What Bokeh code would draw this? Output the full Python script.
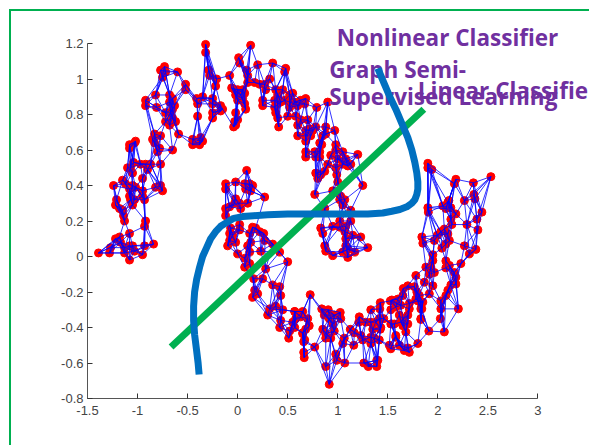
from bokeh.embed import file_html
from bokeh.resources import INLINE
from bokeh.plotting import figure
from bokeh.layouts import column
from bokeh.models import FixedTicker, Label, Range1d, Div
import numpy as np

x_ticks = [-1.5, -1, -0.5, 0, 0.5, 1, 1.5, 2, 2.5, 3]
x_tick_labels = ["-1.5", "-1", "-0.5", "0", "0.5", "1", "1.5", "2", "2.5", "3"]
y_ticks = [-0.8, -0.6, -0.4, -0.2, 0, 0.2, 0.4, 0.6, 0.8, 1, 1.2]
y_tick_labels = ["-0.8", "-0.6", "-0.4", "-0.2", "0", "0.2", "0.4", "0.6", "0.8", "1", "1.2"]

tail = [(-1.39,.02),(-1.28,.02),(-1.27,.05),(-1.22,.10),(-1.18,.11),(-1.17,.08),(-1.08,.13),(-1.13,.05),(-1.08,.06),(-1.05,.06),
        (-1.13,.02),(-1.08,-.02),(-1.03,.03),(-.95,.01),(-.93,.06),(-.84,.07),(-.92,.20),(-.93,.17)]
left_arc = [(-1.24,.40),(-1.21,.32),(-1.22,.29),(-1.18,.27),(-1.15,.26),(-1.14,.23),(-1.13,.20),(-1.15,.43),(-1.12,.41),(-1.08,.38),
            (-1.05,.40),(-1.08,.34),(-1.07,.32),(-1.03,.32),(-1.05,.29),(-1.02,.39),(-.95,.37),(-.95,.34),(-.93,.32),(-.95,.44),
            (-1.10,.50),(-1.05,.47),(-1.07,.50),(-1.08,.63),(-1.08,.61),(-1.02,.65),(-1.04,.53),(-.97,.52),(-.92,.52),(-.87,.52),
            (-.90,.49),(-.77,.52),(-.77,.40),(-.75,.37),(-.82,.39),(-1.03,.64)]
upper_left = [(-.32,1.195),(-.32,1.15),(-.29,1.05),(-.28,1.02),(-.21,1.00),(-.22,.96),(-.73,1.07),(-.77,1.05),(-.72,1.04),(-.75,1.01),
              (-.60,1.04),(-.52,.97),(-.52,.94),(-.92,.88),(-.92,.85),(-.82,.91),(-.81,.84),(-.72,.81),(-.68,.91),(-.65,.89),
              (-.68,.87),(-.63,.85),(-.65,.83),(-.67,.81),(-.72,.76),(-.65,.78),(-.62,.76),(-.68,.74),(-.41,.89),(-.40,.86),
              (-.35,.90),(-.25,.89),(-.25,.86),(-.40,.79),(-.25,.81),(-.25,.78),(-.17,.85),(-.15,.83),(-.17,.82),(-.59,.69),
              (-.45,.66),(-.45,.63),(-.37,.67),(-.35,.65),(-.38,.63),(-.83,.69),(-.85,.66),(-.77,.68),(-.83,.64),(-.78,.61),
              (-.65,.60),(-.80,.59)]
top = [(.13,1.19),(.01,1.12),(.02,1.09),(-.08,1.02),(.09,1.05),(.10,1.02),(.20,1.08),(.35,1.09),(.48,1.06),(.47,1.04),
       (.17,.98),(.22,.97),(.27,.97),(.32,1.0),(.28,.94),(.10,.98),(-.06,.95),(-.03,.94),(0,.94),(.05,.94),
       (-.02,.91),(.03,.91),(0,.88),(.05,.89),(.07,.92),(.07,.86),(.08,.83),(-.02,.81),(-.03,.76),(0,.77),
       (-.04,.73),(-.02,.74),(.25,.88),(.25,.85),(.38,.94),(.45,.94),(.40,.91),(.37,.88),(.40,.86),(.43,.87),
       (.37,.84),(.38,.81),(.40,.78),(.41,.73),(.47,.88),(.52,.91),(.55,.92),(.52,.87),(.57,.87),(.52,.84),
       (.50,.79),(.60,.85),(.63,.88),(.68,.89),(.67,.86),(.79,.84),(.90,.87),(.58,.79),(.60,.74),(.63,.77),
       (.70,.77),(.60,.68)]
upper_right = [(.68,.71),(.72,.72),(.75,.71),(.68,.68),(.73,.68),(.68,.65),(.78,.73),(.88,.73),(.97,.71),(.85,.68),
               (.82,.64),(.68,.59),(.77,.59),(.82,.59),(.68,.56),(.78,.56),(.82,.56),(.84,.63),(.88,.69),(.78,.47),
               (.80,.44),(.83,.46),(.87,.48),(.90,.52),(.77,.35),(.98,.63),(.93,.57),(.98,.60),(1.05,.59),(1.0,.55),
               (1.08,.55),(1.13,.52),(1.10,.51),(1.05,.52),(1.20,.575),(.98,.50),(.99,.46),(1.0,.42),(1.25,.40),(.95,.37),
               (1.03,.34),(1.02,.32),(1.07,.32),(1.05,.29),(.87,.27),(1.13,.26),(.83,.16),(.85,.13),(.95,.17),(1.02,.20),
               (1.08,.17),(1.13,.20),(1.02,.165),(.87,.06),(.88,.03),(.95,.005),(1.05,.025),(1.10,-.005),(1.17,.025),(1.23,.11),
               (1.30,.05),(1.08,.10),(1.08,.06),(1.10,.04),(1.15,.12),(1.07,.14)]
inner = [(.09,.485),(-.12,.41),(-.12,.38),(-.02,.42),(.07,.41),(.12,.41),(.15,.40),(.13,.37),(.08,.38),(.27,.335),
         (-.02,.325),(-.03,.30),(.02,.30),(.03,.27),(.10,.30),(-.12,.27),(-.12,.23),(-.08,.28),(.02,.18),(.02,.15),
         (-.07,.16),(-.08,.13),(-.08,.09),(-.10,.06),(-.02,.08),(0,.015),(-.05,.12),(.15,.165),(.18,.16),(.22,.14),
         (.26,.13),(.27,.09),(.23,.03),(.12,.13),(.10,.06),(.13,.08),(.07,-.01),(.07,-.06),(.12,-.04),(.12,.025),
         (.35,.07),(.42,.025),(.50,-.03),(.28,-.07),(.25,-.125),(.16,-.125),(.17,-.19),(.15,-.23),(.20,-.21),(.35,-.16),
         (.42,-.17),(.43,-.22),(.32,-.295),(.30,-.33),(.38,-.28),(.45,-.30),(.43,-.36),(.42,-.40),(.51,-.46),(.52,-.42),
         (.57,-.31),(.58,-.35),(.67,-.47),(.65,-.43)]
bottom = [(.725,-.215),(.57,-.31),(.55,-.37),(.57,-.40),(.65,-.31),(.63,-.34),(.70,-.35),(.715,-.39),(.68,-.41),(.65,-.435),
          (.66,-.48),(.66,-.54),(.665,-.57),(.77,-.51),(.88,-.62),(.915,-.72),(.84,-.295),(.905,-.30),(1.025,-.315),(1.03,-.35),
          (.865,-.33),(.915,-.35),(.965,-.33),(.95,-.38),(.85,-.41),(.88,-.435),(.965,-.42),(.88,-.46),(.93,-.46),(1.05,-.49),
          (.98,-.55),(.99,-.585),(1.07,-.60),(1.065,-.46),(1.125,-.41),(1.165,-.43),(1.16,-.50),(1.215,-.34),(1.21,-.37),(1.23,-.445),
          (1.25,-.47),(1.28,-.37),(1.33,-.30),(1.33,-.37),(1.35,-.41),(1.33,-.455),(1.33,-.49),(1.365,-.46),(1.26,-.60),(1.305,-.62),
          (1.39,-.62),(1.39,-.585),(1.425,-.26),(1.415,-.35),(1.46,-.35),(1.425,-.41),(1.525,-.25),(1.53,-.30),(1.53,-.38),(1.60,-.24),
          (1.58,-.285),(1.615,-.33),(1.565,-.38),(1.655,-.18),(1.65,-.22),(1.515,-.50),(1.615,-.50),(1.665,-.53),(1.58,-.445),(1.65,-.39),
          (1.65,-.35)]
lower_right = [(1.42,-.295),(1.54,-.245),(1.70,-.165),(1.765,-.17),(1.83,-.26),(1.83,-.295),(1.815,-.22),(1.80,-.25),(1.915,-.21),(1.95,-.165),
               (1.83,-.355),(1.91,-.42),(2.065,-.425),(2.205,-.295),(2.03,-.25),(2.03,-.295),(2.025,-.35),(2.08,-.22),(2.10,-.19),(2.13,-.16),
               (2.18,-.155),(1.80,-.49),(1.715,-.54),(1.70,-.515),(1.53,-.52),(1.415,-.47),(1.40,-.585),(1.54,-.38),(1.58,-.455),(1.63,-.37),
               (1.70,-.33),(1.68,-.425),(1.70,-.38),(1.63,-.275),(1.715,-.265),(1.715,-.295),(1.43,-.35),(1.38,-.37),(1.43,-.40)]
right = [(1.90,.525),(1.90,.50),(1.94,.49),(2.18,.435),(2.165,.41),(2.355,.415),(2.53,.45),(2.36,.35),(2.37,.325),(2.265,.315),
         (2.10,.305),(2.05,.285),(2.13,.275),(2.08,.27),(2.11,.315),(1.90,.275),(1.905,.25),(2.18,.24),(2.13,.21),(2.14,.18),
         (2.44,.25),(2.39,.21),(2.40,.15),(2.29,.18),(2.065,.155),(2.03,.14),(1.995,.12),(2.10,.127),(2.115,.09),(2.08,.07),
         (1.84,.11),(1.85,.075),(1.965,.09),(2.04,.047),(2.265,.06),(2.38,.04),(2.315,.015),(2.08,-.025),(2.08,-.064),(2.23,-.04),
         (1.95,.01),(1.95,-.023),(1.88,-.06),(1.93,-.06),(1.915,-.10),(1.965,-.09),(2.115,-.05),(2.165,-.09),(2.18,-.117),(1.78,-.107),
         (1.865,-.145),(1.79,-.20),(1.78,-.24),(1.85,-.257),(1.84,-.295),(1.83,-.35)]

nonlinear_x = [1.40,1.46,1.52,1.58,1.64,1.70,1.74,1.77,1.79,1.80,1.80,1.79,1.77,1.74,1.69,1.62,1.54,1.45,1.3,1.1,.9,.7,.5,.3,.16,.05,-.04,-.1,-.17,-.22,-.27,-.31,-.35,-.38,-.41,-.43,-.44,-.44,-.43,-.41,-.395,-.385]
nonlinear_y = [1.06,.98,.90,.83,.75,.67,.60,.53,.47,.42,.38,.35,.32,.30,.28,.265,.255,.245,.24,.24,.24,.24,.24,.235,.23,.225,.215,.195,.17,.14,.10,.05,0,-.06,-.13,-.2,-.28,-.36,-.44,-.53,-.6,-.665]
linear_x = [-.665,1.86]
linear_y = [-.51,.83]

labels = [("Nonlinear Classifier", .99, 1.233), ("Graph Semi-", .915, 1.053),
          ("Supervised Learning", .915, .90), ("Linear Classifie", 1.80, .935)]

pts = np.array(tail + left_arc + upper_left + top + upper_right + inner + bottom + lower_right + right)

K = 6
d = np.hypot(pts[:, None, 0] - pts[None, :, 0], pts[:, None, 1] - pts[None, :, 1])
order = np.argsort(d, axis=1)[:, 1:K + 1]
edges = sorted({tuple(sorted((i, int(j)))) for i, row in enumerate(order) for j in row})
ex0 = [pts[a, 0] for a, b in edges]
ey0 = [pts[a, 1] for a, b in edges]
ex1 = [pts[b, 0] for a, b in edges]
ey1 = [pts[b, 1] for a, b in edges]

p = figure(width=589, height=445, output_backend="svg", toolbar_location=None,
           x_range=Range1d(-1.5, 3.515), y_range=Range1d(-0.8, 1.4423),
           min_border_left=87, min_border_right=0, min_border_top=0, min_border_bottom=47)
p.grid.visible = False
p.outline_line_color = None

for ax, ticks, names in ((p.xaxis[0], x_ticks, x_tick_labels), (p.yaxis[0], y_ticks, y_tick_labels)):
    ax.ticker = FixedTicker(ticks=ticks)
    ax.major_label_overrides = {t: n for t, n in zip(ticks, names)}
    ax.major_tick_in = 5
    ax.major_tick_out = 0
    ax.minor_tick_line_color = None
    ax.axis_line_color = "#555555"
    ax.major_tick_line_color = "#333333"
    ax.major_label_text_font = "Liberation Sans"
    ax.major_label_text_font_size = "13px"
    ax.major_label_text_color = "#444444"
    ax.major_label_standoff = 4
p.xaxis[0].major_label_standoff = 7
p.xaxis[0].bounds = (-1.5, 3)
p.yaxis[0].bounds = (-0.8, 1.2)

for text, lx, ly in labels:
    p.add_layout(Label(x=lx, y=ly, text=text, text_color="#7030A0", text_font="Open Sans",
                       text_font_size="22.5px", text_font_style="bold", text_baseline="alphabetic", level="annotation"))

p.scatter(pts[:, 0], pts[:, 1], size=8, marker="circle", fill_color="#FF0000", line_color="#FF0000")
p.segment(ex0, ey0, ex1, ey1, line_color="#0000FF", line_width=1, line_alpha=0.8)
p.line(linear_x, linear_y, line_color="#00B050", line_width=7, level="overlay")
p.line(nonlinear_x, nonlinear_y, line_color="#0070C0", line_width=7, line_join="round", level="overlay")

frame = Div(text="", styles={"position": "absolute", "left": "4px", "top": "4px", "width": "585px", "height": "441px",
                             "box-sizing": "border-box", "border-left": "2px solid #00B050", "border-top": "2px solid #00B050",
                             "pointer-events": "none"})
page = column(p, frame, spacing=0)

open("out.html", "w").write(file_html(page, INLINE))
